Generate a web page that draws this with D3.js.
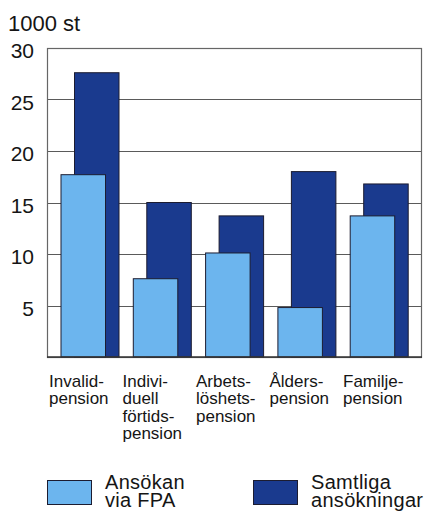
<!DOCTYPE html>
<html>
<head>
<meta charset="utf-8">
<script src="https://cdn.jsdelivr.net/npm/d3@7"></script>
<style>
    body { margin: 0; background: #fff; }
    text { font-family: 'Liberation Sans', Arial, sans-serif; fill: #151515; }
</style>
</head>
<body>
<div id="draw"></div>
<script>
// data
let categories = ['Invalidpension', 'Individuell förtidspension', 'Arbetslöshetspension', 'Ålderspension', 'Familjepension'];
let category_lines = [
    ['Invalid-', 'pension'],
    ['Indivi-', 'duell', 'förtids-', 'pension'],
    ['Arbets-', 'löshets-', 'pension'],
    ['Ålders-', 'pension'],
    ['Familje-', 'pension']
];
let via_fpa = [17.7, 7.6, 10.1, 4.8, 13.7];
let samtliga = [27.6, 15.0, 13.7, 18.0, 16.8];
let y_ticks = [5, 10, 15, 20, 25, 30];
let series_names = [['Ansökan', 'via FPA'], ['Samtliga', 'ansökningar']];
let unit_label = '1000 st';

// parameters
let width = 429,
    height = 513;
let margin = { top: 48, left: 47, bottom: 156, right: 7 };
let light = '#6cb5ee',
    dark = '#1a3a8e',
    outline = '#1c1c30',
    grid = '#5a5a5a';
let bar_width = 44.5,
    light_offset = 11,
    dark_offset = 24.5;

let y = d3.scaleLinear()
    .domain([0, 30])
    .range([height - margin.bottom, margin.top]);
let x = d3.scaleBand()
    .domain(categories)
    .range([50, 411.5]);
let x_label = d3.scaleBand()
    .domain(categories)
    .range([49, 416.5]);

// draw
let svg = d3.select('#draw').append('svg').attr('width', width).attr('height', height);

// unit
svg.append('text')
    .attr('x', 8)
    .attr('y', 31)
    .style('font-size', '22px')
    .text(unit_label);

// gridlines
svg.append('g')
    .selectAll('line')
    .data(y_ticks)
    .enter()
    .append('line')
    .attr('x1', margin.left)
    .attr('x2', width - margin.right)
    .attr('y1', d => Math.round(y(d)) + 0.5)
    .attr('y2', d => Math.round(y(d)) + 0.5)
    .style('stroke', grid)
    .style('stroke-width', 1.2);

// frame
svg.append('rect')
    .attr('x', margin.left + 0.5)
    .attr('y', Math.round(y(30)) + 0.5)
    .attr('width', width - margin.left - margin.right - 1)
    .attr('height', Math.round(y(0)) - Math.round(y(30)))
    .style('fill', 'none')
    .style('stroke', '#666')
    .style('stroke-width', 1.2);

// tick labels
svg.append('g')
    .selectAll('text')
    .data(y_ticks)
    .enter()
    .append('text')
    .attr('x', 34)
    .attr('y', d => y(d) + 3)
    .attr('dy', '0.35em')
    .attr('text-anchor', 'end')
    .style('font-size', '21px')
    .text(d => d);

// bars: total behind, FPA in front
svg.append('g')
    .selectAll('rect')
    .data(samtliga)
    .enter()
    .append('rect')
    .attr('x', (d, i) => x(categories[i]) + dark_offset)
    .attr('y', d => y(d))
    .attr('width', bar_width)
    .attr('height', d => y(0) - y(d))
    .style('fill', dark)
    .style('stroke', outline)
    .style('stroke-width', 1);

svg.append('g')
    .selectAll('rect')
    .data(via_fpa)
    .enter()
    .append('rect')
    .attr('x', (d, i) => x(categories[i]) + light_offset)
    .attr('y', d => y(d))
    .attr('width', bar_width)
    .attr('height', d => y(0) - y(d))
    .style('fill', light)
    .style('stroke', outline)
    .style('stroke-width', 1);

// bottom axis line
svg.append('line')
    .attr('x1', margin.left)
    .attr('x2', width - margin.right)
    .attr('y1', y(0))
    .attr('y2', y(0))
    .style('stroke', '#333')
    .style('stroke-width', 1.5);

// category labels
svg.append('g')
    .selectAll('text')
    .data(categories)
    .enter()
    .append('text')
    .attr('x', d => x_label(d))
    .attr('y', 387)
    .style('font-size', '17px')
    .selectAll('tspan')
    .data((d, i) => category_lines[i])
    .enter()
    .append('tspan')
    .attr('x', function() { return this.parentNode.getAttribute('x'); })
    .attr('dy', (d, i) => i == 0 ? 0 : 17.3)
    .text(d => d);

// legend
let legend = svg.append('g')
    .selectAll('g')
    .data(series_names)
    .enter()
    .append('g')
    .attr('transform', (d, i) => 'translate(' + (i == 0 ? 47 : 253) + ',480)');

legend.append('rect')
    .attr('x', 0.5)
    .attr('y', 0.5)
    .attr('width', 44)
    .attr('height', 24)
    .style('fill', (d, i) => i == 0 ? light : dark)
    .style('stroke', outline)
    .style('stroke-width', 1);

legend.append('text')
    .attr('x', 58)
    .attr('y', 9)
    .style('font-size', '20px')
    .style('letter-spacing', '0.3px')
    .selectAll('tspan')
    .data(d => d)
    .enter()
    .append('tspan')
    .attr('x', 58)
    .attr('dy', (d, i) => i == 0 ? 0 : 17.8)
    .text(d => d);
</script>
</body>
</html>
